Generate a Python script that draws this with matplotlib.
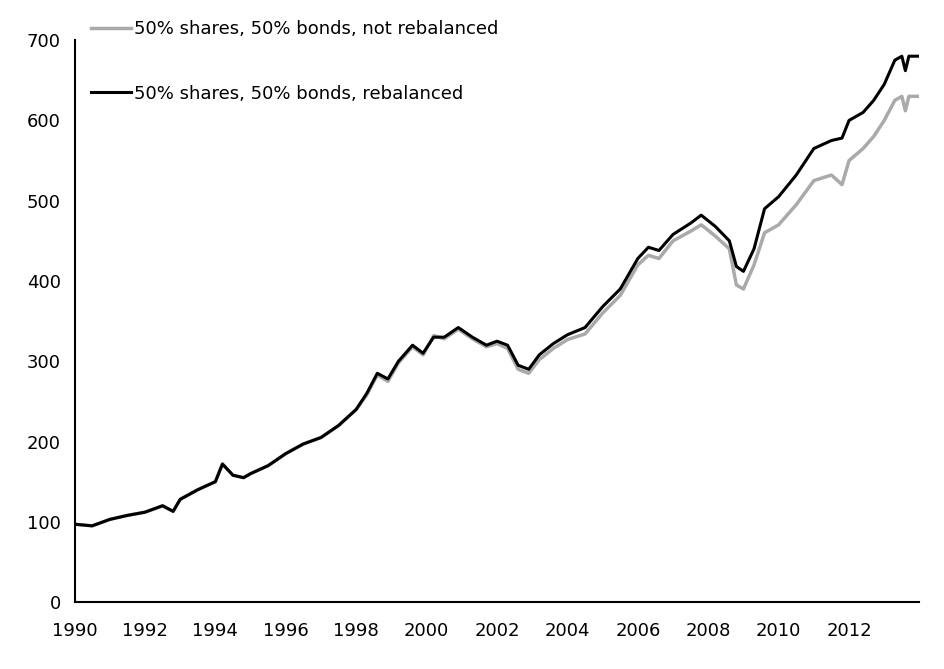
import matplotlib.pyplot as plt

years = [1990.0, 1990.5, 1991.0, 1991.5, 1992.0, 1992.5, 1992.8, 1993.0, 1993.5, 1994.0,
         1994.2, 1994.5, 1994.8, 1995.0, 1995.5, 1996.0, 1996.5, 1997.0, 1997.5, 1998.0,
         1998.3, 1998.6, 1998.9, 1999.2, 1999.6, 1999.9, 2000.2, 2000.5, 2000.9, 2001.3,
         2001.7, 2002.0, 2002.3, 2002.6, 2002.9, 2003.2, 2003.6, 2004.0, 2004.5, 2005.0,
         2005.5, 2006.0, 2006.3, 2006.6, 2007.0, 2007.5, 2007.8, 2008.2, 2008.6, 2008.8,
         2009.0, 2009.3, 2009.6, 2010.0, 2010.5, 2011.0, 2011.5, 2011.8, 2012.0, 2012.4,
         2012.7, 2013.0, 2013.3, 2013.5, 2013.6, 2013.7, 2014.0]
rebalanced = [97, 95, 103, 108, 112, 120, 113, 128, 140, 150,
              172, 158, 155, 160, 170, 185, 197, 205, 220, 240,
              260, 285, 278, 300, 320, 310, 330, 330, 342, 330,
              320, 325, 320, 295, 290, 308, 322, 333, 342, 368,
              390, 428, 442, 438, 458, 472, 482, 468, 450, 418,
              412, 440, 490, 505, 532, 565, 575, 578, 600, 610,
              625, 645, 675, 680, 662, 680, 680]
not_rebalanced = [97, 95, 103, 108, 112, 120, 113, 128, 140, 150,
                  172, 158, 155, 160, 170, 185, 197, 205, 220, 240,
                  258, 283, 275, 298, 318, 308, 332, 328, 340, 328,
                  318, 322, 316, 290, 285, 302, 316, 327, 334, 360,
                  382, 420, 432, 428, 450, 462, 470, 456, 440, 395,
                  390, 420, 460, 470, 495, 525, 532, 520, 550, 565,
                  580, 600, 625, 630, 612, 630, 630]

fig = plt.figure(figsize=(9.44, 6.69), dpi=100)
ax = fig.add_axes([0.079, 0.1, 0.895, 0.84])
ax.plot(years, not_rebalanced, color='#aaaaaa', lw=2.5, label='50% shares, 50% bonds, not rebalanced')
ax.plot(years, rebalanced, color='black', lw=2.2, label='50% shares, 50% bonds, rebalanced')
ax.set_xlim(1990, 2014)
ax.set_ylim(0, 700)
ax.set_xticks(range(1990, 2013, 2))
ax.set_yticks(range(0, 701, 100))
ax.tick_params(axis='y', length=0, labelsize=13, pad=10)
ax.tick_params(axis='x', length=0, labelsize=13, pad=14)
for s in ['top', 'right']:
    ax.spines[s].set_visible(False)
ax.spines['left'].set_linewidth(1.5)
ax.spines['bottom'].set_linewidth(1.5)
ax.legend(loc='upper left', bbox_to_anchor=(0.0, 1.065), frameon=False, fontsize=13,
          handlelength=2.2, labelspacing=2.6, handletextpad=0.2)
fig.savefig('out.png')
